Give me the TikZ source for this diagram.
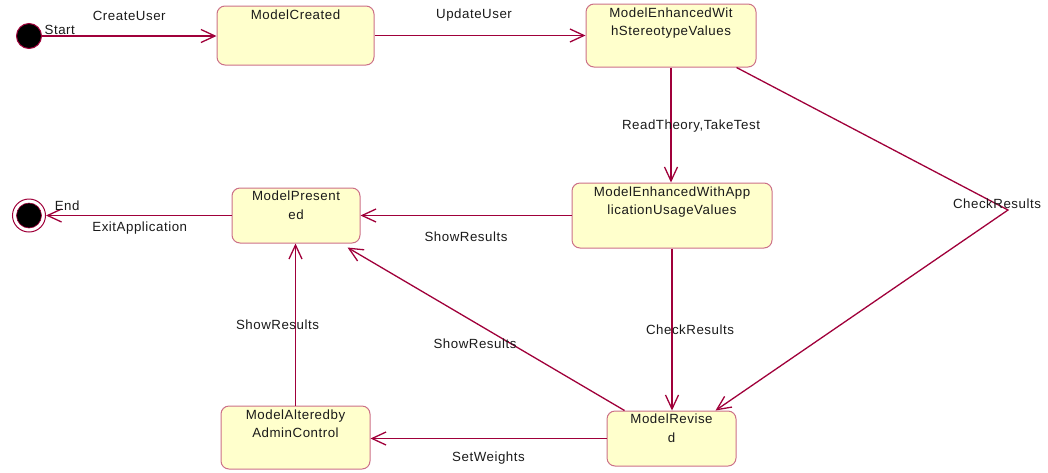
\documentclass[tikz,border=0pt]{standalone}
\usepackage{fontspec}
\setmainfont[LetterSpace=4]{Liberation Sans}
\usetikzlibrary{arrows.meta, positioning, calc}
\definecolor{cwine}{HTML}{A0003A}
\definecolor{cpink}{HTML}{CC7088}
\definecolor{cpale}{HTML}{FFFFCC}
\definecolor{ctext}{HTML}{1A1A1A}
\tikzset{
  every picture/.style={x=1pt, y=-1pt, font=\fontsize{13.3}{18.5}\selectfont},
  state/.style={draw=cpink, fill=cpale, rounded corners=8pt, line width=1pt, inner sep=0pt},
  statetext/.style={text=ctext, align=center, inner sep=0pt},
  lbl/.style={text=ctext, inner sep=0pt},
  trans/.style={-{Straight Barb[length=14pt, width=13pt]}, draw=cwine, line width=1.3pt},
}

\begin{document}
\begin{tikzpicture}
  \useasboundingbox (0,0) rectangle (1048,472);

  % pseudo states
  \node[circle, draw=cwine, fill=black, line width=1pt, minimum size=25pt, inner sep=0pt] (start) at (29,36) {};
  \node[circle, draw=cwine, fill=white, line width=1pt, minimum size=33pt, inner sep=0pt] (end) at (29,215.5) {};
  \node[circle, draw=cwine, fill=black, line width=0.6pt, minimum size=25pt, inner sep=0pt] (endcore) at (29,215.5) {};

  % states
  \node[state, minimum width=157pt, minimum height=59pt] (created) at (295.5,35.5) {};
  \node[state, minimum width=170pt, minimum height=63pt] (stereo) at (671,35.5) {};
  \node[state, minimum width=200pt, minimum height=65pt] (app) at (672,215.5) {};
  \node[state, minimum width=128pt, minimum height=55pt] (presented) at (296,215.5) {};
  \node[state, minimum width=149pt, minimum height=63pt] (altered) at (295.5,437.5) {};
  \node[state, minimum width=129pt, minimum height=55pt] (revised) at (671.5,438.5) {};

  \node[statetext, below=4.5pt of created.north] (createdtxt) {ModelCreated};
  \node[statetext, below=4pt of stereo.north] (stereotxt) {ModelEnhancedWit\\hStereotypeValues};
  \node[statetext, below=4pt of app.north] (apptxt) {ModelEnhancedWithApp\\licationUsageValues};
  \node[statetext, below=3.5pt of presented.north] (presentedtxt) {ModelPresent\\ed};
  \node[statetext, below=4pt of altered.north] (alteredtxt) {ModelAlteredby\\AdminControl};
  \node[statetext, below=3.5pt of revised.north] (revisedtxt) {ModelRevise\\d};

  \coordinate (bend) at (1008,210);

  % transitions
  \draw[trans] (start) -- (start -| created.west)
    node[lbl, pos=0, anchor=south west, xshift=2pt, yshift=1pt] {Start}
    node[lbl, midway, yshift=20pt] {CreateUser};
  \draw[trans] (created) -- (stereo)
    node[lbl, midway, xshift=-6pt, yshift=20pt] {UpdateUser};
  \draw[trans] (stereo) -- (stereo |- app.north)
    node[lbl, pos=0.51, xshift=20pt] {ReadTheory,TakeTest};
  \draw[trans] ($(stereo.south east)+(-20,0)$) -- (bend)
    node[lbl, xshift=-11pt, yshift=6pt] {CheckResults}
    -- ($(revised.north east)+(-21,0)$);
  \draw[trans] (app) -- (presented)
    node[lbl, midway, yshift=-21pt] {ShowResults};
  \draw[trans] (app.south) -- (app.south |- revised.north)
    node[lbl, midway, xshift=18pt] {CheckResults};
  \draw[trans] ($(revised.north west)+(18,0)$) -- ($(presented.south east)+(-13,4)$)
    node[lbl, midway, xshift=-11pt, yshift=-15pt] {ShowResults};
  \draw[trans] (revised.west) -- (revised.west -| altered.east)
    node[lbl, midway, yshift=-20pt] {SetWeights};
  \draw[trans] (altered.north) -- (altered.north |- presented.south)
    node[lbl, midway, xshift=-18pt] {ShowResults};
  \draw[trans] (presented.west) -- (end.east |- presented.west)
    node[lbl, pos=0.886, yshift=10pt] {End}
    node[lbl, midway, xshift=1pt, yshift=-13pt] {ExitApplication};
\end{tikzpicture}
\end{document}
